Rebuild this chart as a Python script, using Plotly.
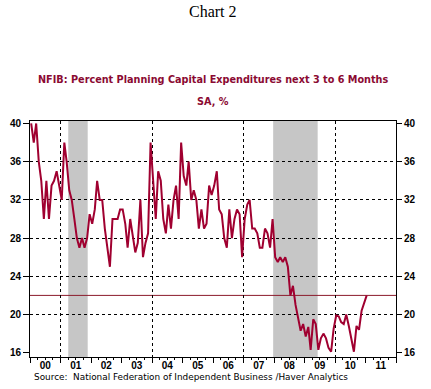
import plotly.graph_objects as go
import pandas as pd

# ---- text ----
title_text = "Chart 2"
subtitle_text = "NFIB: Percent Planning Capital Expenditures next 3 to 6 Months"
units_text = "SA, %"
source_text = "Source:  National Federation of Independent Business /Haver Analytics"

# ---- data (monthly, Jan 2000 - Jan 2011) ----
values_2000 = [40, 38, 40, 36, 34, 30, 34, 30, 33.5, 34, 35, 33.5]
values_2001 = [32, 38, 36, 33, 32, 30, 28, 27, 28, 27, 28, 30.5]
values_2002 = [29.5, 31, 34, 32, 32, 29, 27, 25, 30, 30, 30, 31]
values_2003 = [31, 29.5, 27, 30, 28, 26.5, 27.5, 32, 26, 27.5, 28.5, 38]
values_2004 = [34, 30, 35, 34, 30, 28.5, 31.5, 29, 32, 33.5, 30, 38]
values_2005 = [34.5, 33.5, 36, 32, 33, 32, 29, 31, 29, 29.5, 33.5, 32.5]
values_2006 = [33.5, 35, 31, 30.5, 28, 27, 31, 28, 30, 31, 30.5, 26]
values_2007 = [30, 31.5, 32, 29, 29, 28.5, 27, 27, 29, 28.5, 27, 30]
values_2008 = [26, 25.5, 26, 25.5, 26, 25, 22, 23, 21, 19.5, 18.3, 19]
values_2009 = [17.7, 18.7, 16.3, 19.5, 19, 16.3, 17.5, 18, 17.5, 16.5, 16.1, 18.5]
values_2010 = [19.9, 19.8, 19.2, 19, 20, 18.8, 17.3, 16.1, 18.8, 18.4, 20.4, 21.3]
values_2011 = [22]

values = (values_2000 + values_2001 + values_2002 + values_2003 + values_2004 +
          values_2005 + values_2006 + values_2007 + values_2008 + values_2009 +
          values_2010 + values_2011)
dates = pd.date_range("2000-01-01", periods=len(values), freq="MS") + pd.Timedelta(days=14)

recessions = [("2001-04-03", "2001-11-22"), ("2007-12-22", "2009-06-07")]
reference_level = 22
y_ticks = [16, 20, 24, 28, 32, 36, 40]
y_grid = [20, 24, 28, 32, 36]
x_range = ["2000-01-01", "2012-01-01"]
y_range = [15.55, 40.26]

LINE = "#A00030"
TXT_RED = "#8B0A32"
tickfont = dict(family="Liberation Sans", size=10, color="black", weight="bold")

fig = go.Figure()
fig.add_trace(go.Scatter(x=dates, y=values, mode="lines",
                         line=dict(color=LINE, width=2), showlegend=False, hoverinfo="skip"))
# helper (invisible) traces so overlay axes render
fig.add_trace(go.Scatter(x=[dates[0]], y=[values[0]], yaxis="y2", mode="markers",
                         marker=dict(opacity=0), showlegend=False, hoverinfo="skip"))
fig.add_trace(go.Scatter(x=[dates[0]], y=[values[0]], yaxis="y3", mode="markers",
                         marker=dict(opacity=0), showlegend=False, hoverinfo="skip"))
fig.add_trace(go.Scatter(x=[dates[0]], y=[values[0]], xaxis="x2", mode="markers",
                         marker=dict(opacity=0), showlegend=False, hoverinfo="skip"))

for x0, x1 in recessions:
    fig.add_vrect(x0=x0, x1=x1, fillcolor="#C6C6C6", opacity=1, line_width=0, layer="below")

fig.add_hline(y=reference_level, line=dict(color="#8B1A2B", width=1), layer="below")

fig.update_layout(
    template="none",
    width=431, height=389,
    margin=dict(l=30, r=35, t=121, b=32, autoexpand=False),
    paper_bgcolor="white", plot_bgcolor="white",
    showlegend=False,
    xaxis=dict(type="date", range=x_range, showline=True, linecolor="black", linewidth=1,
               mirror=True, ticks="outside", ticklen=5, tickcolor="black",
               dtick="M12", tick0="2000-01-01", tickformat="%y", ticklabelmode="period",
               ticklabelstandoff=-6,
               showgrid=False, zeroline=False, tickfont=tickfont, automargin=False,
               minor=dict(dtick="M3", tick0="2000-01-01", ticks="outside", ticklen=2,
                          tickcolor="black", showgrid=False)),
    xaxis2=dict(type="date", range=x_range, overlaying="x", anchor="y",
                dtick="M36", tick0="2001-01-01", showgrid=True, gridcolor="black",
                gridwidth=1, griddash="3px,3px", showticklabels=False, ticks="",
                showline=False, zeroline=False, automargin=False),
    yaxis=dict(range=y_range, tickmode="array", tickvals=y_ticks, showline=True,
               linecolor="black", linewidth=1, mirror=True, ticks="outside", ticklen=6,
               tickcolor="black", showgrid=False, zeroline=False, tickfont=tickfont,
               automargin=False),
    yaxis2=dict(range=y_range, overlaying="y", side="right", tickmode="array",
                tickvals=y_ticks, ticks="outside", ticklen=5, tickcolor="black",
                showgrid=False, zeroline=False, showline=False, tickfont=tickfont,
                automargin=False),
    yaxis3=dict(range=y_range, overlaying="y", side="left", tickmode="array",
                tickvals=y_grid, showgrid=True, gridcolor="black", gridwidth=1,
                griddash="3px,3px", showticklabels=False, ticks="", showline=False,
                zeroline=False, automargin=False),
)

plot_h = 389 - 121 - 32
def py(pix):
    return (389 - 32 - pix) / plot_h

fig.add_annotation(text=title_text, xref="paper", yref="paper", x=0.5, y=py(12),
                   showarrow=False, xanchor="center", yanchor="middle",
                   font=dict(family="Liberation Serif", size=16, color="black"))
fig.add_annotation(text=subtitle_text, xref="paper", yref="paper", x=0.5, y=py(79),
                   showarrow=False, xanchor="center", yanchor="middle",
                   font=dict(family="DejaVu Sans", size=9.7, color=TXT_RED, weight="bold"))
fig.add_annotation(text=units_text, xref="paper", yref="paper", x=0.5, y=py(101),
                   showarrow=False, xanchor="center", yanchor="middle",
                   font=dict(family="DejaVu Sans", size=9.7, color=TXT_RED, weight="bold"))
fig.add_annotation(text=source_text, xref="paper", yref="paper", x=(31.5 - 30) / 366, y=py(377),
                   showarrow=False, xanchor="left", yanchor="middle",
                   font=dict(family="DejaVu Sans", size=8.9, color="black"))

fig.write_html("out.html", config={"displayModeBar": False},
               post_script="document.body.style.margin='0';")
